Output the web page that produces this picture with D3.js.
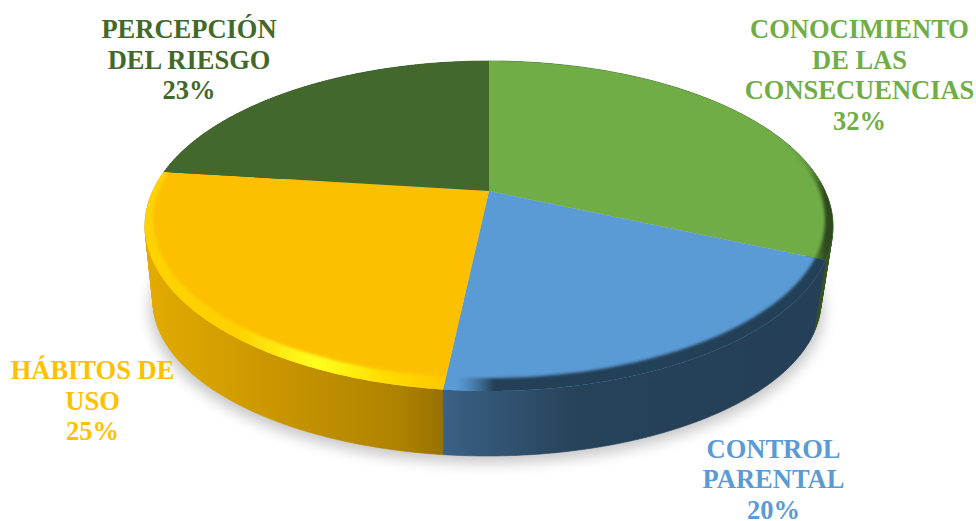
<!DOCTYPE html>
<html><head><meta charset="utf-8">
<script src="https://cdn.jsdelivr.net/npm/d3@7"></script>
<style>html,body{margin:0;padding:0;background:#fff}svg{display:block}text{font-family:"Liberation Serif",serif;font-weight:700;font-size:26.5px}</style>
</head><body><div id="c"></div>
<script>
const categories = ["CONOCIMIENTO DE LAS CONSECUENCIAS","CONTROL PARENTAL","HÁBITOS DE USO","PERCEPCIÓN DEL RIESGO"];
const labelLines = [["CONOCIMIENTO","DE LAS","CONSECUENCIAS"],["CONTROL","PARENTAL"],["HÁBITOS DE","USO"],["PERCEPCIÓN","DEL RIESGO"]];
const values = [32,20,25,23];
const faceColors = ["#70ad47","#5b9bd5","#fcc000","#43682b"];
const textColors = ["#70ad47","#5b9bd5","#ffc000","#43682b"];
const labelAnchors = [[859.5,38],[773.5,457.7],[92.5,379],[189,38]];
const wallStops = [
  [[0,"#35521f"],[1,"#35521f"]],
  [[0,"#3b6085"],[.35,"#264258"],[1,"#243f57"]],
  [[0,"#e3ab00"],[.5,"#c59300"],[.85,"#ae8200"],[1,"#977000"]],
  [[0,"#2c4520"],[1,"#2c4520"]]
];
const bevelStops = [
  [[0,"#70ad47",0],[.55,"#4f7a30",.35],[.85,"#2f4a1c",1],[1,"#2f4a1c",1]],
  [[0,"#5b9bd5",1],[.03,"#5b9bd5",.6],[.13,"#243f57",1],[1,"#243f57",1]],
  [[0,"#ffd300",1],[.3,"#ffd000",1],[.57,"#ffff1e",1],[.8,"#ffdc00",1],[1,"#ffc800",1]],
  [[0,"#43682b",0],[1,"#43682b",0]]
];
const W=976,H=521;
const top_={cx:489,cy:226,rx:344,ry:165,ax:489,ay:191};
const inner={cx:489,cy:220,rx:336,ry:158};
const outerBand={cx:489,cy:226,rx:356,ry:177};
const base={cx:487,cy:301,rx:334,ry:155,ax:487,ay:266};
const svg=d3.select("#c").append("svg").attr("width",W).attr("height",H);
const defs=svg.append("defs");
const blur=(id,s)=>defs.append("filter").attr("id",id).attr("x","-20%").attr("y","-20%").attr("width","140%").attr("height","140%").append("feGaussianBlur").attr("stdDeviation",s);
blur("sh",7);blur("bv",1.6);
const arcs=d3.pie().sort(null).value(d=>d)(values);
function rim(e,a){
  const c=Math.cos(a),s=Math.sin(a);
  const R=c>0?160:141.4+47.3*c*c;
  const dx=s*344,dy=-c*R;
  const ox=e.ax-e.cx,oy=e.ay-e.cy;
  const A=dx*dx/(e.rx*e.rx)+dy*dy/(e.ry*e.ry);
  const B=2*(ox*dx/(e.rx*e.rx)+oy*dy/(e.ry*e.ry));
  const C=ox*ox/(e.rx*e.rx)+oy*oy/(e.ry*e.ry)-1;
  const t=(-B+Math.sqrt(B*B-4*A*C))/(2*A);
  return [e.ax+t*dx,e.ay+t*dy];
}
const N=120;
const samples=(d)=>d3.range(N+1).map(i=>d.startAngle+(d.endAngle-d.startAngle)*i/N);
const line=d3.line();
const ell=e=>{const p=d3.range(0,361,2).map(t=>[e.cx+e.rx*Math.cos(t*Math.PI/180),e.cy+e.ry*Math.sin(t*Math.PI/180)]);return line(p)+"Z";};
function gradient(id,x0,x1,stops){
  const g=defs.append("linearGradient").attr("id",id).attr("gradientUnits","userSpaceOnUse").attr("x1",x0).attr("x2",x1).attr("y1",0).attr("y2",0);
  stops.forEach(s=>g.append("stop").attr("offset",s[0]).attr("stop-color",s[1]).attr("stop-opacity",s[2]===undefined?1:s[2]));
}
const wallRange=[[700,835],[445,825],[147,445],[147,489]];
const bevelRange=[[770,835],[445,825],[145,445],[145,489]];
// shadow
svg.append("path").attr("d",ell({cx:base.cx,cy:base.cy+7,rx:base.rx+3,ry:base.ry})).attr("fill","#000").attr("opacity",.22).attr("filter","url(#sh)");
// walls
const drawOrder=[3,0,2,1];
const walls=svg.append("g");
drawOrder.forEach(i=>{
  const d=arcs[i];
  gradient("w"+i,wallRange[i][0],wallRange[i][1],wallStops[i]);
  const as=samples(d);let p="";
  for(let k=0;k<N;k++){
    const q=[rim(top_,as[k]),rim(top_,as[k+1]),rim(base,as[k+1]),rim(base,as[k])];
    p+=line(q)+"Z";
  }
  walls.append("path").attr("d",p).attr("fill","url(#w"+i+")").attr("stroke","url(#w"+i+")").attr("stroke-width",.6);
});
// faces
const faces=svg.append("g");
arcs.forEach((d,i)=>{
  const pts=[[top_.ax,top_.ay]].concat(samples(d).map(a=>rim(top_,a)));
  const dp=line(pts)+"Z";
  defs.append("clipPath").attr("id","c"+i).append("path").attr("d",dp);
  faces.append("path").attr("d",dp).attr("fill",faceColors[i]);
  gradient("b"+i,bevelRange[i][0],bevelRange[i][1],bevelStops[i]);
});
arcs.forEach((d,i)=>{
  faces.append("g").attr("clip-path","url(#c"+i+")")
    .append("path").attr("d",ell(outerBand)+ell(inner)).attr("fill-rule","evenodd").attr("fill","url(#b"+i+")").attr("filter","url(#bv)");
});
// labels
const lh=30.5;
const labels=svg.append("g").attr("text-anchor","middle");
arcs.forEach((d,i)=>{
  const ls=labelLines[i].concat([values[i]+"%"]);
  ls.forEach((t,k)=>labels.append("text").attr("x",labelAnchors[i][0]).attr("y",labelAnchors[i][1]+k*lh).attr("fill",textColors[i]).text(t));
});
</script></body></html>
